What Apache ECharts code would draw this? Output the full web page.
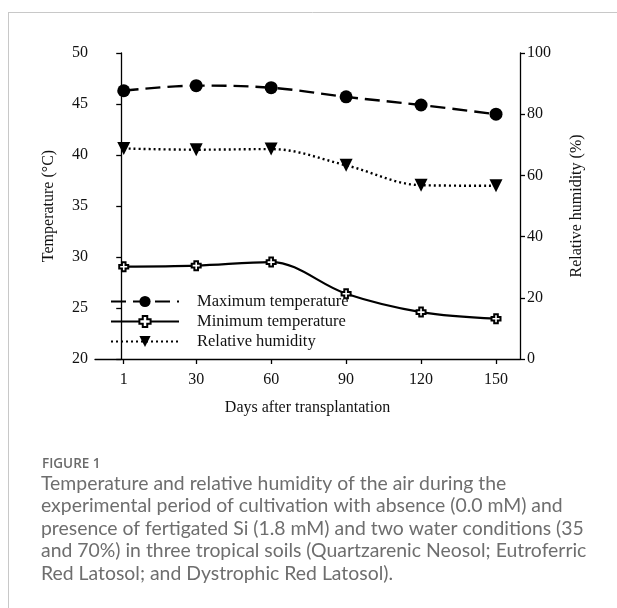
<!DOCTYPE html>
<html><head><meta charset="utf-8">
<script src="https://cdn.jsdelivr.net/npm/echarts@6/dist/echarts.min.js"></script>
<style>html,body{margin:0;padding:0;background:#fff}#c{width:617px;height:608px}</style>
</head><body><div id="c"></div>
<script>
const days = [1, 30, 60, 90, 120, 150];
const maxTemp = [46.3, 46.8, 46.6, 45.7, 44.9, 44.0];
const minTemp = [29.05, 29.15, 29.5, 26.4, 24.6, 23.95];
const humidity = [68.8, 68.4, 68.6, 63.3, 56.8, 56.6];
const seriesNames = ['Maximum temperature', 'Minimum temperature', 'Relative humidity'];
const captionTitle = 'FIGURE 1';
const captionLines = [
  'Temperature and relative humidity of the air during the',
  'experimental period of cultivation with absence (0.0 mM) and',
  'presence of fertigated Si (1.8 mM) and two water conditions (35',
  'and 70%) in three tropical soils (Quartzarenic Neosol; Eutroferric',
  'Red Latosol; and Dystrophic Red Latosol).'
];

const pair = (vals) => days.map((d, i) => [d, vals[i]]);
const serif = '"Liberation Serif", "Times New Roman", serif';
const crossPath = 'path://M3,0 L7,0 L7,3 L10,3 L10,7 L7,7 L7,10 L3,10 L3,7 L0,7 L0,3 L3,3 Z';

const chart = echarts.init(document.getElementById('c'), null, {renderer: 'canvas'});
const captionGraphics = [
  {type: 'line', shape: {x1: 8, y1: 12.5, x2: 617, y2: 12.5}, style: {stroke: '#c8c8c8', lineWidth: 1}},
  {type: 'line', shape: {x1: 8.5, y1: 12, x2: 8.5, y2: 608}, style: {stroke: '#c8c8c8', lineWidth: 1}},
  {type: 'text', x: 42, y: 457, style: {text: captionTitle, font: '600 13.5px "Open Sans"', fill: '#6a6a6a', textBaseline: 'alphabetic'}}
];
captionLines.forEach((t, i) => captionGraphics.push({
  type: 'text', x: 41, y: 474 + i * 22.5,
  style: {text: t, font: '19.4px Lato', fill: '#6e6e6e', textBaseline: 'alphabetic'}
}));

const axisText = {fontFamily: serif, fontSize: 16, color: '#111'};

chart.setOption({
  animation: false,
  backgroundColor: '#fff',
  textStyle: {fontFamily: serif},
  grid: {left: 95, right: 97, top: 53, bottom: 249, containLabel: false},
  legend: {
    orient: 'vertical', left: 105, top: 288, itemGap: 3,
    itemWidth: 68, itemHeight: 14,
    textStyle: {fontFamily: serif, fontSize: 16.5, color: '#111', padding: [0, 0, 0, 13]},
    data: seriesNames
  },
  xAxis: {
    type: 'value', min: -10.5, max: 159.6,
    name: 'Days after transplantation', nameLocation: 'middle', nameGap: 41,
    nameTextStyle: axisText,
    axisLine: {show: true, onZero: false, lineStyle: {color: '#000', width: 1.3}},
    axisTick: {show: true, length: 5, customValues: days, lineStyle: {color: '#000', width: 1.3}},
    axisLabel: Object.assign({customValues: days, margin: 13}, axisText),
    splitLine: {show: false}
  },
  yAxis: [
    {
      type: 'value', min: 20, max: 50, interval: 5, position: 'left',
      name: 'Temperature (°C)', nameLocation: 'middle', nameGap: 38, nameRotate: 90,
      nameTextStyle: axisText,
      axisLine: {show: true, lineStyle: {color: '#000', width: 1.3}},
      axisTick: {show: true, length: 5, lineStyle: {color: '#000', width: 1.3}},
      axisLabel: Object.assign({margin: 7}, axisText),
      splitLine: {show: false}
    },
    {
      type: 'value', min: 0, max: 100, interval: 20, position: 'right',
      name: 'Relative humidity (%)', nameLocation: 'middle', nameGap: 49, nameRotate: 90,
      nameTextStyle: axisText,
      axisLine: {show: true, lineStyle: {color: '#000', width: 1.3}},
      axisTick: {show: true, length: 5, lineStyle: {color: '#000', width: 1.3}},
      axisLabel: Object.assign({margin: 7}, axisText),
      splitLine: {show: false}
    }
  ],
  series: [
    {
      name: seriesNames[0], type: 'line', yAxisIndex: 0, smooth: 0.35,
      data: pair(maxTemp), symbol: 'circle', symbolSize: 13,
      itemStyle: {color: '#000'},
      lineStyle: {color: '#000', width: 2.4, type: [15, 7]}
    },
    {
      name: seriesNames[1], type: 'line', yAxisIndex: 0, smooth: 0.35,
      data: pair(minTemp), symbol: crossPath, symbolSize: 9,
      itemStyle: {color: '#fff', borderColor: '#000', borderWidth: 2},
      lineStyle: {color: '#000', width: 2.2, type: 'solid'}
    },
    {
      name: seriesNames[2], type: 'line', yAxisIndex: 1, smooth: 0.35,
      data: pair(humidity), symbol: 'triangle', symbolRotate: 180, symbolSize: 13,
      itemStyle: {color: '#000'},
      lineStyle: {color: '#000', width: 2.4, type: [2, 3]}
    }
  ],
  graphic: captionGraphics
});
</script></body></html>
